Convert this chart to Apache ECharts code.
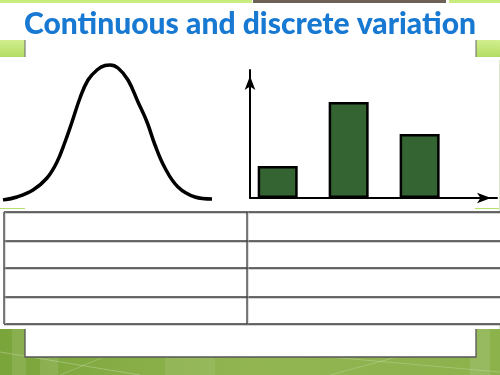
<!DOCTYPE html>
<html>
<head>
<meta charset="utf-8">
<script src="https://cdn.jsdelivr.net/npm/echarts@6/dist/echarts.min.js"></script>
<style>
html,body{margin:0;padding:0;background:#fff;}
#c{width:500px;height:375px;}
</style>
</head>
<body>
<div id="c"></div>
<script>
// ---- data ----
var titleText = 'Continuous and discrete variation';
// bell curve (continuous): [position, height]
var curveX = [3, 17, 33, 47, 57, 65, 72, 80, 88, 97, 105, 110, 118, 128, 138, 147, 155, 165, 178, 195, 212];
var curveY = [0, 3, 10, 22, 38, 58, 78, 102, 120, 130, 134.5, 135, 132, 120, 98, 78, 55, 32, 13, 3, 1];
// bar chart (discrete)
var barCats = [1, 2, 3];
var barVals = [1, 3, 2];

var chart = echarts.init(document.getElementById('c'), null, {renderer: 'canvas'});

var curveData = curveX.map(function (x, i) { return [x, curveY[i]]; });
var barData = barCats.map(function (c, i) { return [c, barVals[i]]; });

// measure title to fit width
var titleFont = '900 30px Lato';
var cv = document.createElement('canvas').getContext('2d');
cv.font = titleFont;
var tw = cv.measureText(titleText).width || 450;
var titleScale = 452 / tw;

// table graphics
var tableG = [];
var tx0 = 4, tx1 = 500, ty0 = 212, ty1 = 324, tmid = 247;
var rowYs = [212, 241, 268, 297, 324];
tableG.push({type: 'rect', shape: {x: tx0, y: ty0, width: tx1 - tx0, height: ty1 - ty0}, style: {fill: '#fff', stroke: null}});
for (var r = 0; r < rowYs.length; r++) {
  tableG.push({type: 'line', shape: {x1: tx0, y1: rowYs[r] + 1, x2: tx1, y2: rowYs[r] + 1}, style: {stroke: '#aaa', lineWidth: 1}});
  tableG.push({type: 'line', shape: {x1: tx0, y1: rowYs[r], x2: tx1, y2: rowYs[r]}, style: {stroke: '#3a3a3a', lineWidth: 1.3}});
}
[tx0, tmid].forEach(function (x) {
  tableG.push({type: 'line', shape: {x1: x + 1, y1: ty0, x2: x + 1, y2: ty1}, style: {stroke: '#bbb', lineWidth: 1}});
  tableG.push({type: 'line', shape: {x1: x, y1: ty0, x2: x, y2: ty1}, style: {stroke: '#3a3a3a', lineWidth: 1.3}});
});

var green = {type: 'linear', x: 0, y: 0, x2: 0, y2: 1, colorStops: [{offset: 0, color: '#d2ef8e'}, {offset: 1, color: '#b2dc62'}]};
var bottomGreen = {type: 'linear', x: 0, y: 0, x2: 1, y2: 0, colorStops: [{offset: 0, color: '#7aa53a'}, {offset: 0.5, color: '#92b552'}, {offset: 1, color: '#8cb24c'}]};

var decor = [
  // top strips
  {type: 'rect', shape: {x: 0, y: 0, width: 252, height: 3}, style: {fill: '#c8ec7e'}},
  {type: 'rect', shape: {x: 253, y: 0, width: 193, height: 3}, style: {fill: '#6b6157'}},
  {type: 'rect', shape: {x: 449, y: 0, width: 51, height: 3}, style: {fill: '#c8ec7e'}},
  // side blocks
  {type: 'rect', shape: {x: 0, y: 40, width: 25, height: 17}, style: {fill: green}},
  {type: 'line', shape: {x1: 25, y1: 40, x2: 25, y2: 57}, style: {stroke: '#666', lineWidth: 1}},
  {type: 'rect', shape: {x: 476, y: 40, width: 24, height: 17}, style: {fill: green}},
  {type: 'line', shape: {x1: 476, y1: 40, x2: 476, y2: 57}, style: {stroke: '#666', lineWidth: 1}},
  {type: 'line', shape: {x1: 0, y1: 208.5, x2: 25, y2: 208.5}, style: {stroke: '#b5df6a', lineWidth: 1}},
  {type: 'line', shape: {x1: 475, y1: 208.5, x2: 500, y2: 208.5}, style: {stroke: '#b5df6a', lineWidth: 1}},
  {type: 'line', shape: {x1: 499.5, y1: 60, x2: 499.5, y2: 330}, style: {stroke: '#dde8d0', lineWidth: 1}},
  // bottom green band
  {type: 'rect', shape: {x: 0, y: 329, width: 500, height: 46}, style: {fill: bottomGreen}},
  {type: 'rect', shape: {x: 12, y: 329, width: 14, height: 46}, style: {fill: 'rgba(255,255,255,0.10)'}},
  {type: 'rect', shape: {x: 40, y: 329, width: 18, height: 46}, style: {fill: 'rgba(255,255,255,0.10)'}},
  {type: 'rect', shape: {x: 165, y: 329, width: 50, height: 46}, style: {fill: 'rgba(255,255,255,0.08)'}},
  {type: 'rect', shape: {x: 470, y: 329, width: 20, height: 46}, style: {fill: 'rgba(255,255,255,0.10)'}},
  {type: 'line', shape: {x1: 0, y1: 352, x2: 140, y2: 375}, style: {stroke: 'rgba(255,255,255,0.25)', lineWidth: 1}},
  {type: 'line', shape: {x1: 60, y1: 375, x2: 170, y2: 330}, style: {stroke: 'rgba(255,255,255,0.2)', lineWidth: 1}},
  {type: 'line', shape: {x1: 250, y1: 350, x2: 500, y2: 372}, style: {stroke: 'rgba(255,255,255,0.2)', lineWidth: 1}},
  {type: 'line', shape: {x1: 330, y1: 375, x2: 460, y2: 340}, style: {stroke: 'rgba(255,255,255,0.2)', lineWidth: 1}},
  // white inset box
  {type: 'rect', shape: {x: 25, y: 329, width: 451, height: 28}, style: {fill: '#fff', stroke: null}},
  {type: 'polyline', shape: {points: [[25, 329], [25, 357], [476, 357], [476, 329]]}, style: {fill: null, stroke: '#555', lineWidth: 1.3}},
  // title
  {
    type: 'text', x: 250, y: 24, scaleX: titleScale, scaleY: 1, originX: 0, originY: 0,
    style: {
      text: titleText, font: titleFont, align: 'center', verticalAlign: 'middle',
      fill: '#1779d2',
      stroke: '#ffffff', lineWidth: 1.2,
      shadowColor: 'rgba(40,40,40,0.55)', shadowBlur: 2, shadowOffsetX: 1, shadowOffsetY: 1.5
    }
  }
];

var option = {
  animation: false,
  backgroundColor: '#fff',
  grid: [
    {left: 0, width: 215, top: 60, height: 140},
    {left: 250, right: 3, top: 70, bottom: 177}
  ],
  xAxis: [
    {type: 'value', gridIndex: 0, min: 0, max: 215, show: false},
    {type: 'value', gridIndex: 1, min: 0.61, max: 4.09,
      axisLine: {show: true, lineStyle: {color: '#000', width: 2}, symbol: ['none', 'arrow'], symbolSize: [8, 14], symbolOffset: [0, -6]},
      axisTick: {show: false}, axisLabel: {show: false}, splitLine: {show: false}}
  ],
  yAxis: [
    {type: 'value', gridIndex: 0, min: 0, max: 140, show: false},
    {type: 'value', gridIndex: 1, min: 0, max: 4,
      axisLine: {show: true, lineStyle: {color: '#000', width: 2}, symbol: ['none', 'arrow'], symbolSize: [8, 14], symbolOffset: [0, -6]},
      axisTick: {show: false}, axisLabel: {show: false}, splitLine: {show: false}}
  ],
  series: [
    {type: 'line', xAxisIndex: 0, yAxisIndex: 0, data: curveData, smooth: 0.4, showSymbol: false,
      lineStyle: {color: '#000', width: 3.5}, z: 5},
    {type: 'bar', xAxisIndex: 1, yAxisIndex: 1, data: barData, barWidth: 40,
      itemStyle: {color: '#356433', borderColor: '#000', borderWidth: 2.5}, z: 2}
  ],
  graphic: {elements: decor.concat(tableG)}
};
chart.setOption(option);
</script>
</body>
</html>
